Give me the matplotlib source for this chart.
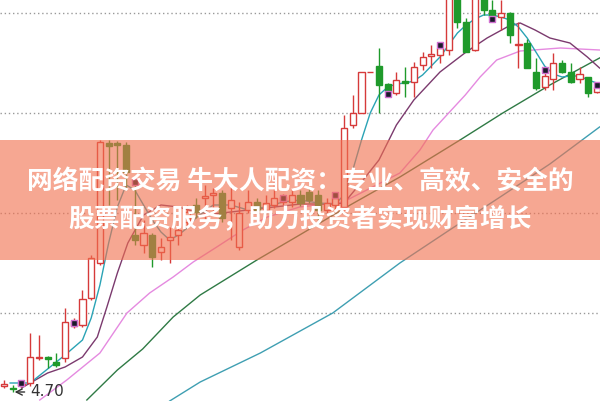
import matplotlib
matplotlib.use("Agg")
import matplotlib.pyplot as plt
from matplotlib.patches import Rectangle

plt.rcParams['font.family'] = ['Noto Sans CJK SC', 'DejaVu Sans']

# 日K数据 (开, 收, 高, 低)
opens = [4.76, 4.74, 4.77, 4.79, 5.04, 5.05, 5.00, 5.04, 5.36, 5.37,
         5.64, 5.99, 7.19, 7.19, 7.17, 6.27, 6.17, 6.27, 6.10, 6.22,
         6.27, 6.40, 6.57, 6.64, 6.67, 6.69, 6.54, 6.15, 6.52, 6.60,
         6.52, 6.57, 6.60, 6.60, 6.67, 6.70, 6.67, 6.52, 6.57, 6.55,
         7.37, 7.49, 7.90, 7.96, 7.78, 7.69, 7.81, 7.80, 7.97, 8.06,
         8.07, 8.12, 8.67, 8.40, 8.12, 8.67, 8.52, 8.45, 8.49, 8.17,
         8.19, 7.90, 7.75, 7.83, 7.99, 7.90, 7.83, 7.85, 7.70]
closes = [4.78, 4.73, 4.78, 5.05, 5.05, 5.03, 4.97, 5.40, 5.41, 5.63,
          6.04, 7.20, 7.16, 7.17, 6.90, 6.22, 6.29, 6.05, 6.15, 6.25,
          6.32, 6.50, 6.50, 6.66, 6.69, 6.44, 6.62, 6.49, 6.60, 6.52,
          6.59, 6.64, 6.65, 6.67, 6.59, 6.62, 6.52, 6.59, 6.64, 7.34,
          7.49, 7.90, 7.90, 7.77, 7.70, 7.82, 7.79, 7.95, 8.05, 8.08,
          8.14, 8.70, 8.40, 8.10, 8.70, 8.52, 8.45, 8.49, 8.27, 8.18,
          7.94, 7.74, 7.86, 7.99, 7.90, 7.80, 7.88, 7.69, 7.75]
highs = [4.82, 4.77, 4.81, 5.29, 5.27, 5.06, 5.09, 5.54, 5.44, 5.72,
         6.07, 7.22, 7.22, 7.21, 7.20, 6.80, 6.42, 6.29, 6.24, 6.35,
         6.42, 6.57, 6.64, 6.77, 6.74, 6.72, 6.75, 6.60, 6.72, 6.64,
         6.67, 6.85, 6.68, 6.74, 6.72, 6.74, 6.72, 6.64, 6.67, 7.47,
         7.67, 7.90, 7.90, 8.14, 7.79, 7.90, 7.95, 8.00, 8.10, 8.17,
         8.20, 8.72, 8.72, 8.44, 8.72, 8.72, 8.62, 8.62, 8.50, 8.40,
         8.23, 8.04, 7.94, 8.09, 8.02, 7.99, 7.95, 7.85, 7.77]
lows = [4.74, 4.70, 4.75, 4.76, 5.02, 4.94, 4.95, 5.00, 5.34, 5.35,
        5.62, 5.97, 6.57, 6.62, 6.72, 6.17, 6.09, 5.95, 6.02, 5.99,
        6.17, 6.36, 6.44, 6.42, 6.49, 6.40, 6.22, 6.12, 6.49, 6.49,
        6.48, 6.54, 6.57, 6.55, 6.56, 6.59, 6.40, 6.49, 6.53, 6.52,
        7.34, 7.49, 7.90, 7.49, 7.67, 7.67, 7.65, 7.65, 7.92, 7.94,
        7.99, 8.07, 8.34, 8.10, 8.11, 8.47, 8.40, 8.32, 8.19, 7.94,
        7.94, 7.72, 7.72, 7.72, 7.89, 7.79, 7.79, 7.65, 7.69]

# 均线 (K线序号, 价格)
ma5_x = [0.7, 3, 6, 7, 9, 10, 11, 12, 13, 14, 15, 16, 17, 18, 19, 20, 21, 22, 24, 26,
         28, 30, 32, 34, 36, 38, 39, 40, 41, 42, 43, 44, 45, 46, 47, 48, 49, 50, 51, 52,
         53, 54, 55, 56, 57, 58, 59, 60, 61, 62, 63, 64, 65, 66, 67, 68.3]
ma5_y = [4.79, 4.79, 5.00, 5.07, 5.22, 5.44, 5.77, 6.19, 6.55, 6.77, 6.72, 6.57, 6.42, 6.30,
         6.22, 6.27, 6.34, 6.44, 6.57, 6.57, 6.52, 6.55, 6.60, 6.62, 6.59, 6.58, 6.67, 6.92,
         7.22, 7.49, 7.67, 7.75, 7.78, 7.79, 7.81, 7.87, 7.96, 8.05, 8.17, 8.29, 8.37, 8.43,
         8.47, 8.47, 8.45, 8.42, 8.35, 8.24, 8.10, 7.96, 7.88, 7.85, 7.86, 7.86, 7.82, 7.78]
ma10_x = [2, 5, 7, 9, 10.7, 11.8, 13, 14.2, 16, 18, 20, 22, 24, 26, 28, 30, 32, 34, 36,
          38, 39, 41, 43, 45, 47, 50, 53, 55.4, 57.7, 59.2, 60.9, 62.6, 64.9, 66.9, 68.3]
ma10_y = [4.74, 4.89, 4.95, 5.05, 5.25, 5.55, 5.89, 6.19, 6.47, 6.57, 6.55, 6.50, 6.48,
          6.50, 6.52, 6.54, 6.56, 6.58, 6.58, 6.58, 6.59, 6.80, 7.02, 7.37, 7.62, 7.90,
          8.10, 8.24, 8.35, 8.39, 8.32, 8.24, 8.19, 8.05, 7.94]
ma20_x = [4.1, 7.2, 11, 14.1, 16.7, 19.4, 21.7, 24.4, 27.4, 30.2, 33.9, 38.9, 41.6, 45.4,
          47.7, 49.2, 51.1, 52.9, 54.6, 56.5, 59.2, 63.8, 68.3]
ma20_y = [4.62, 4.82, 5.09, 5.49, 5.69, 5.85, 6.00, 6.15, 6.32, 6.45, 6.55, 6.60, 6.72,
          6.89, 7.12, 7.32, 7.50, 7.67, 7.85, 8.02, 8.11, 8.14, 8.12]
ma30_x = [9.5, 13, 15.9, 19.4, 22.5, 29, 33.9, 39.7, 45.4, 52.3, 57.2, 62.6, 68.3]
ma30_y = [4.62, 4.92, 5.13, 5.45, 5.67, 6.02, 6.27, 6.57, 6.85, 7.22, 7.49, 7.77, 8.04]
ma60_x = [19, 22.5, 29.4, 37.7, 45.4, 51.1, 56.9, 62.6, 68.3]
ma60_y = [4.61, 4.80, 5.09, 5.49, 5.99, 6.32, 6.65, 6.98, 7.35]

# 标记位置
mark_x = [2, 8, 15, 32, 38, 44, 50, 56, 62, 68]
mark_y = [4.79, 5.39, 6.80, 6.64, 6.67, 7.68, 8.17, 8.43, 7.92, 7.77]

grid_y = [5.49, 6.49, 7.49, 8.49]

fig = plt.figure(figsize=(6, 4.01), dpi=100)
ax = fig.add_axes([0, 0, 1, 1])
ax.set_xlim(-0.46, 68.35)
ax.set_ylim(4.61, 8.62)
ax.axis('off')

for g in grid_y:
    ax.axhline(g, color='#999999', lw=1, ls=(0, (1, 2)), zorder=0)

ax.plot(ma60_x, ma60_y, color='#3f9fb2', lw=1, zorder=1)
ax.plot(ma30_x, ma30_y, color='#2f7a45', lw=1, zorder=1)
ax.plot(ma20_x, ma20_y, color='#e58ae0', lw=1, zorder=1)
ax.plot(ma10_x, ma10_y, color='#7b3a6e', lw=1, zorder=1)
ax.plot(ma5_x, ma5_y, color='#2aa3b5', lw=1, zorder=1)

w = 0.7
for i in range(len(opens)):
    o, c, h, l = opens[i], closes[i], highs[i], lows[i]
    if c >= o:
        col = '#d63a3a'
        ax.vlines(i, l, h, color=col, lw=1, zorder=2)
        ax.add_patch(Rectangle((i - w / 2, o), w, max(c - o, 0.004),
                               facecolor='white', edgecolor=col, lw=1, zorder=3))
    else:
        col = '#1f9a2b'
        ax.vlines(i, l, h, color=col, lw=1, zorder=2)
        ax.add_patch(Rectangle((i - w / 2, c), w, o - c,
                               facecolor=col, edgecolor=col, lw=1, zorder=3))

ax.scatter(mark_x, mark_y, marker='s', s=22, color='#1a1a2a', edgecolors='#d070d0',
           linewidths=1, zorder=4)

ax.annotate('4.70', xy=(0.9, 4.70), xytext=(3.0, 4.70), fontsize=11, color='#333333',
            va='center', ha='left', family='DejaVu Sans',
            arrowprops=dict(arrowstyle='->', color='#333333', lw=1))

# 横幅
fig.patches.append(Rectangle((0, 141 / 401), 1, 120 / 401, transform=fig.transFigure,
                             facecolor='#f2714f', alpha=0.62, edgecolor='none', zorder=10))
fig.text(0.5, 1 - 182 / 401, '网络配资交易 牛大人配资：专业、高效、安全的', color='white',
         fontsize=18.5, fontweight='bold', ha='center', va='center', zorder=11)
fig.text(0.5, 1 - 219 / 401, '股票配资服务，助力投资者实现财富增长', color='white',
         fontsize=18.5, fontweight='bold', ha='center', va='center', zorder=11)

fig.savefig('out.png', dpi=100)
